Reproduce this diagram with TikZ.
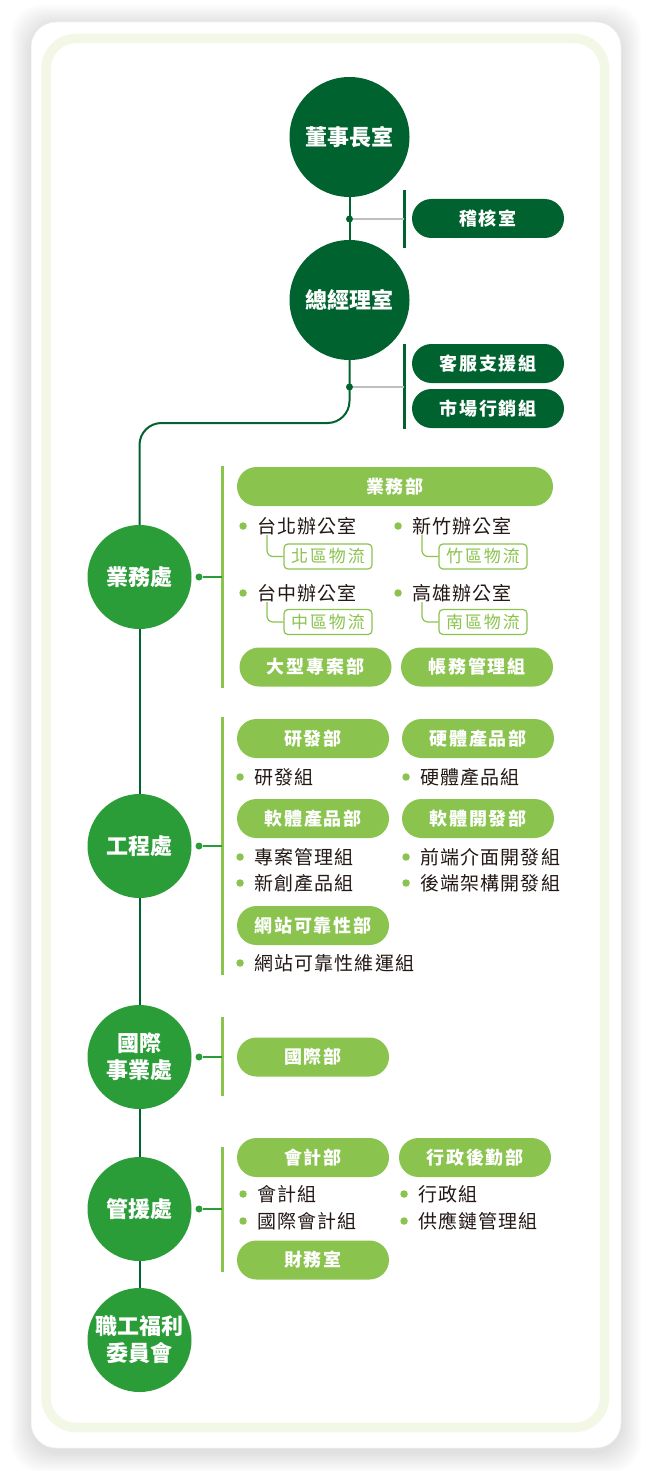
\documentclass[tikz,border=0pt]{standalone}
\usepackage{fontspec}
\setmainfont{Noto Sans CJK TC}
\newfontfamily\sparse[LetterSpace=11]{Noto Sans CJK TC}
\newfontfamily\tight[LetterSpace=6]{Noto Sans CJK TC}

\definecolor{dkgreen}{HTML}{00632F}
\definecolor{mdgreen}{HTML}{2A9D39}
\definecolor{ltgreen}{HTML}{8BC34F}
\definecolor{ringgreen}{HTML}{F3F7E6}
\definecolor{ink}{HTML}{231815}

\tikzset{
  bigc/.style={circle, fill=dkgreen, minimum size=120pt, inner sep=0pt, text=white,
    align=center, font=\bfseries\fontsize{22}{27}\selectfont},
  midc/.style={bigc, fill=mdgreen, minimum size=104pt},
  pill/.style={rounded corners=19.5pt, minimum width=152pt, minimum height=39pt,
    inner sep=0pt, text=white, font=\sparse\bfseries\fontsize{18}{20}\selectfont},
  dkpill/.style={pill, fill=dkgreen},
  ltpill/.style={pill, fill=ltgreen},
  ldot/.style={circle, fill=ltgreen, minimum size=7.5pt, inner sep=0pt},
  item/.style={anchor=west, inner sep=0pt, text=ink, font=\tight\fontsize{19}{21}\selectfont,
    label={[ldot, label distance=10pt]left:{}}},
  subbox/.style={draw=ltgreen, line width=1.2pt, fill=white, rounded corners=4pt,
    minimum width=88pt, minimum height=25pt, inner sep=0pt, text=ltgreen,
    font=\sparse\fontsize{17}{19}\selectfont},
  tdot/.style={circle, fill=dkgreen, minimum size=7pt, inner sep=0pt},
  mdot/.style={circle, fill=mdgreen, minimum size=7pt, inner sep=0pt},
  trunk/.style={dkgreen, line width=2pt},
  gline/.style={black!25, line width=1.2pt},
  mline/.style={mdgreen, line width=2pt},
  dkbar/.style={dkgreen, line width=3pt},
  ltbar/.style={ltgreen, line width=3pt},
  subln/.style={ltgreen, line width=1.2pt, rounded corners=6pt}
}

\begin{document}
\begin{tikzpicture}[x=1pt, y=-1pt]
\useasboundingbox (0,0) rectangle (650,1471);

% card
\foreach \s in {1,...,10}
  \fill[black, opacity=0.012, rounded corners=30pt] (31-2*\s,25-2*\s) rectangle (621+2*\s,1452+2*\s);
\filldraw[fill=white, draw=black!8, line width=0.5pt, rounded corners=25pt] (31,22) rectangle (621,1448);
\draw[ringgreen, line width=9.5pt, rounded corners=30pt] (46,38.5) rectangle (604.5,1427.5);

% top
\node[bigc] (chair) at (349.5,137) {董事長室};
\node[bigc] (gm) at (349.5,300) {總經理室};
\node[dkpill] (audit) at (488,218.5) {稽核室};
\node[dkpill] (cs) at (488,363.5) {客服支援組};
\node[dkpill] (mkt) at (488,408.5) {市場行銷組};

\draw[trunk] (chair) -- (gm);
\node[tdot] (t1) at (349.5,219) {};
\node[tdot] (t2) at (349.5,387) {};
\coordinate (a1) at (404,190);
\coordinate (a2) at (404,248);
\coordinate (a3) at (404,344);
\coordinate (a4) at (404,429);
\draw[dkbar] (a1) -- (a2);
\draw[dkbar] (a3) -- (a4);
\draw[gline] (t1) -- (t1 -| a1);
\draw[gline] (t2) -- (t2 -| a3);

% divisions
\node[midc] (sales) at (139.5,577) {業務處};
\node[midc] (eng) at (139.5,846) {工程處};
\node[midc] (intl) at (139.5,1057) {國際\\事業處};
\node[midc] (mgmt) at (139.5,1209) {管援處};
\node[midc] (welfare) at (139.5,1340) {職工福利\\委員會};

\coordinate (bend) at (245,423);
\draw[trunk, rounded corners=22pt] (gm) |- (bend) -| (sales);
\draw[trunk] (sales) -- (eng);
\draw[trunk] (eng) -- (intl);
\draw[trunk] (intl) -- (mgmt);
\draw[trunk] (mgmt) -- (welfare);

\foreach \n/\y/\t/\b in {sales/577/466/688, eng/846/717/975, intl/1057/1017/1096, mgmt/1209/1147/1272}
{
	\node[mdot] (d-\n) at (199,\y) {};
	\coordinate (t-\n) at (222,\t);
	\coordinate (b-\n) at (222,\b);
	\draw[ltbar] (t-\n) -- (b-\n);
	\draw[mline] (d-\n) -- (d-\n -| t-\n);
}

% departments
\node[ltpill, minimum width=316pt] (bizdept) at (395,486.5) {業務部};
\foreach \n/\x/\y/\t in {pj/315.5/667/大型專案部, bill/477/667/帳務管理組,
	rd/313/738.5/研發部, hw/478/738.5/硬體產品部,
	swp/313/818.5/軟體產品部, swd/478/818.5/軟體開發部,
	sre/313/925.5/網站可靠性部, intldept/313/1057/國際部,
	acc/313/1157.5/會計部, adm/475/1157.5/行政後勤部, treas/313/1260/財務室}
{
	\node[ltpill] (\n) at (\x,\y) {\t};
}

% groups
\foreach \n/\x/\y/\t in {tp/257/526/台北辦公室, hc/412/526/新竹辦公室,
	tc/257/593/台中辦公室, kh/412/593/高雄辦公室,
	rdg/254/777/研發組, hwg/420/777/硬體產品組,
	pm/254/857/專案管理組, np/254/883/新創產品組,
	fe/420/857/前端介面開發組, be/420/883/後端架構開發組,
	sreg/254/963/網站可靠性維運組,
	accg/257/1194/會計組, iacc/257/1221/國際會計組,
	admg/418/1194/行政組, scm/418/1221/供應鏈管理組}
{
	\node[item] (\n) at (\x,\y) {\t};
}

% logistics
\foreach \n/\p/\x/\y/\t in {tpl/tp/328/556.5/北區物流, hcl/hc/483/556.5/竹區物流,
	tcl/tc/328/622/中區物流, khl/kh/483/622/南區物流}
{
	\node[subbox] (\n) at (\x,\y) {\t};
	\draw[subln] ([xshift=10pt]\p.south west) |- (\n.west);
}
\end{tikzpicture}
\end{document}
